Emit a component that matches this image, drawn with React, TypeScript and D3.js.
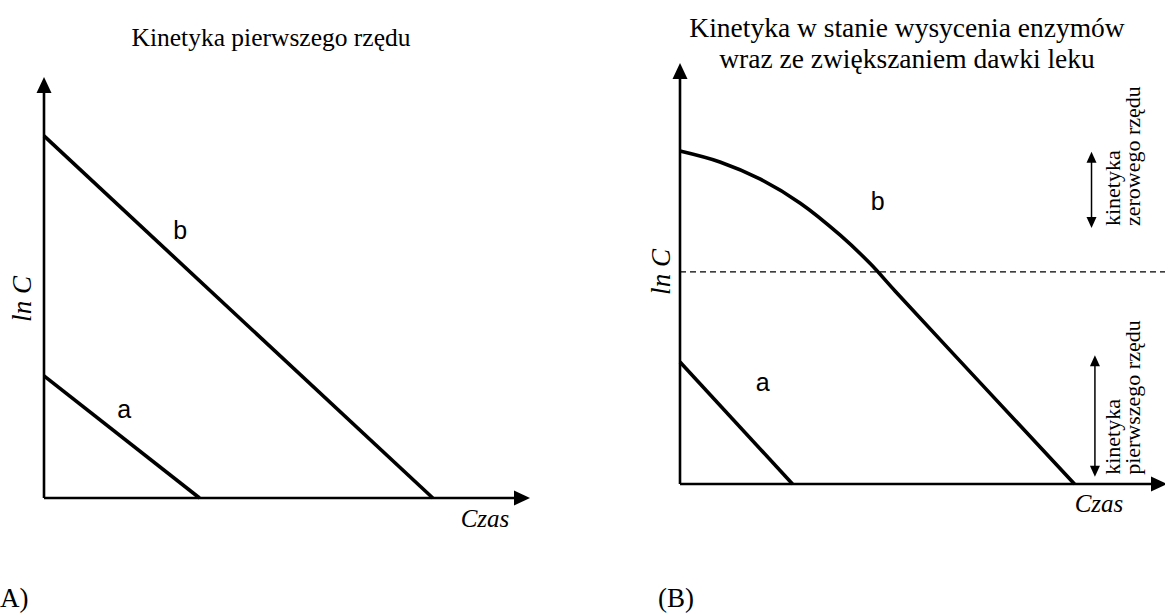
import React from "react";
import * as d3 from "d3";

// Panel A: first-order kinetics, two straight lines (ln C vs time)
const panelALines = [
  { name: "b", c0: 8.6, tEnd: 8.0 },
  { name: "a", c0: 2.9, tEnd: 3.2 },
];
const panelALabels = [
  { text: "b", t: 2.8, v: 6.15 },
  { text: "a", t: 1.65, v: 1.9 },
];

// Panel B: saturation kinetics (curve b) and first-order line a
const curveBTime = [0, 0.82, 1.65, 2.47, 3.29, 3.91, 4.42, 6.2, 8.1];
const curveBValue = [7.91, 7.65, 7.24, 6.67, 5.91, 5.23, 4.58, 2.36, 0];
const lineBA = { c0: 2.9, tEnd: 2.31 };
const threshold = 5.04;
const panelBLabels = [
  { text: "b", t: 4.06, v: 6.5 },
  { text: "a", t: 1.7, v: 2.2 },
];
// Range arrows on the right of panel B
const rangeArrows = [
  { t: 8.45, from: 7.89, to: 6.08, lines: ["kinetyka", "zerowego rzędu"] },
  { t: 8.52, from: 3.06, to: 0.17, lines: ["kinetyka", "pierwszego rzędu"] },
];

const serif = "'Liberation Serif', 'Times New Roman', serif";
const sans = "'Liberation Sans', Arial, sans-serif";

function Axes({ x, y }: { x: d3.ScaleLinear<number, number>; y: d3.ScaleLinear<number, number> }) {
  const x0 = x(0), y0 = y(0);
  const xTip = x.range()[1], yTip = y.range()[1];
  const ah = 16, aw = 7.5;
  return (
    <g>
      <line x1={x0} y1={y0} x2={x0} y2={yTip + ah - 1} stroke="#000" strokeWidth={2.6} />
      <line x1={x0} y1={y0} x2={xTip - ah + 1} y2={y0} stroke="#000" strokeWidth={2.6} />
      <path d={`M${x0},${yTip} L${x0 - aw},${yTip + ah} L${x0 + aw},${yTip + ah} Z`} fill="#000" />
      <path d={`M${xTip},${y0} L${xTip - ah},${y0 - aw} L${xTip - ah},${y0 + aw} Z`} fill="#000" />
    </g>
  );
}

export default function App() {
  // Panel A scales
  const xA = d3.scaleLinear().domain([0, 10]).range([44, 530]);
  const yA = d3.scaleLinear().domain([0, 10]).range([498, 77]);
  // Panel B scales
  const xB = d3.scaleLinear().domain([0, 10]).range([680, 1167]);
  const yB = d3.scaleLinear().domain([0, 10]).range([484, 63]);

  const straight = d3
    .line<[number, number]>()
    .x((d) => d[0])
    .y((d) => d[1]);

  const curveB = d3
    .line<number>()
    .x((_, i) => xB(curveBTime[i]))
    .y((d) => yB(d))
    .curve(d3.curveCatmullRom.alpha(0.5))(curveBValue) as string;

  return (
    <svg
      width={1165}
      height={615}
      style={{ position: "absolute", left: 0, top: 0, background: "#fff" }}
    >
      <rect width={1165} height={615} fill="#fff" />

      {/* Panel A */}
      <text x={271} y={46} fontFamily={serif} fontSize={25.5} textAnchor="middle">
        Kinetyka pierwszego rzędu
      </text>
      <Axes x={xA} y={yA} />
      {panelALines.map((l) => (
        <path
          key={l.name}
          d={straight([
            [xA(0), yA(l.c0)],
            [xA(l.tEnd), yA(0)],
          ]) as string}
          stroke="#000"
          strokeWidth={3.6}
          fill="none"
        />
      ))}
      {panelALabels.map((l) => (
        <text key={l.text} x={xA(l.t)} y={yA(l.v)} fontFamily={sans} fontSize={25} textAnchor="middle">
          {l.text}
        </text>
      ))}
      <text
        transform={`translate(31,${299}) rotate(-90)`}
        fontFamily={serif}
        fontStyle="italic"
        fontSize={27}
        textAnchor="middle"
      >
        ln C
      </text>
      <text x={485} y={527} fontFamily={serif} fontStyle="italic" fontSize={25} textAnchor="middle">
        Czas
      </text>
      <text x={0} y={607} fontFamily={serif} fontSize={27}>
        A)
      </text>

      {/* Panel B */}
      <text fontFamily={serif} fontSize={27.5} textAnchor="middle">
        <tspan x={907} y={37}>Kinetyka w stanie wysycenia enzymów</tspan>
        <tspan x={907} y={68}>wraz ze zwiększaniem dawki leku</tspan>
      </text>
      <line
        x1={xB(0)}
        x2={xB(10)}
        y1={yB(threshold)}
        y2={yB(threshold)}
        stroke="#000"
        strokeWidth={1.2}
        strokeDasharray="6,4"
      />
      <Axes x={xB} y={yB} />
      <path d={curveB} stroke="#000" strokeWidth={3.6} fill="none" />
      <path
        d={straight([
          [xB(0), yB(lineBA.c0)],
          [xB(lineBA.tEnd), yB(0)],
        ]) as string}
        stroke="#000"
        strokeWidth={3.6}
        fill="none"
      />
      {panelBLabels.map((l) => (
        <text key={l.text} x={xB(l.t)} y={yB(l.v)} fontFamily={sans} fontSize={25} textAnchor="middle">
          {l.text}
        </text>
      ))}
      <text
        transform={`translate(670,${272}) rotate(-90)`}
        fontFamily={serif}
        fontStyle="italic"
        fontSize={27}
        textAnchor="middle"
      >
        ln C
      </text>
      <text x={1099} y={512} fontFamily={serif} fontStyle="italic" fontSize={25} textAnchor="middle">
        Czas
      </text>
      <text x={658} y={607} fontFamily={serif} fontSize={27}>
        (B)
      </text>

      {rangeArrows.map((r, i) => {
        const x = xB(r.t);
        const top = yB(r.from);
        const bottom = yB(r.to);
        const ah = 11, aw = 5;
        return (
          <g key={i}>
            <line x1={x} x2={x} y1={top + ah - 1} y2={bottom - ah + 1} stroke="#000" strokeWidth={1.5} />
            <path d={`M${x},${top} L${x - aw},${top + ah} L${x + aw},${top + ah} Z`} fill="#000" />
            <path d={`M${x},${bottom} L${x - aw},${bottom - ah} L${x + aw},${bottom - ah} Z`} fill="#000" />
            {r.lines.map((ln, j) => (
              <text
                key={j}
                transform={`translate(${1120 + j * 20},${bottom - 2}) rotate(-90)`}
                fontFamily={serif}
                fontSize={22}
              >
                {ln}
              </text>
            ))}
          </g>
        );
      })}
    </svg>
  );
}
